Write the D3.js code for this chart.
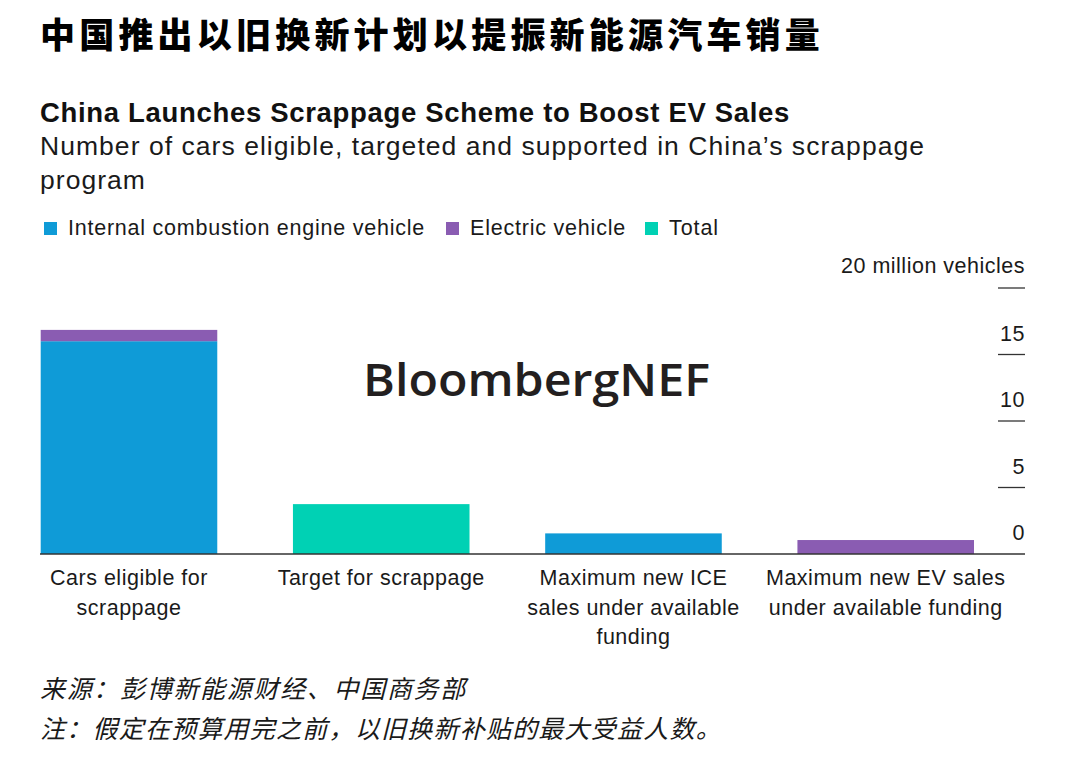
<!DOCTYPE html>
<html>
<head>
<meta charset="utf-8">
<script src="https://cdn.jsdelivr.net/npm/d3@7"></script>
<style>
  html, body { margin: 0; padding: 0; background: #fff; }
  svg { display: block; }
</style>
</head>
<body>
<svg id="chart" width="1080" height="759"></svg>
<script>
// ---- data ----
const categories = [
  ["Cars eligible for", "scrappage"],
  ["Target for scrappage"],
  ["Maximum new ICE", "sales under available", "funding"],
  ["Maximum new EV sales", "under available funding"]
];
const iceValues   = [16.0, 0, 1.55, 0];
const evValues    = [0.85, 0, 0, 1.05];
const totalValues = [0, 3.75, 0, 0];
const seriesNames = ["Internal combustion engine vehicle", "Electric vehicle", "Total"];
const seriesColors = ["#0f9bd7", "#8a5cb2", "#00d1b4"];
const yTicks = [0, 5, 10, 15, 20];
const yUnit = "20 million vehicles";
const titleZh = "中国推出以旧换新计划以提振新能源汽车销量";
const subtitle = "China Launches Scrappage Scheme to Boost EV Sales";
const description = ["Number of cars eligible, targeted and supported in China’s scrappage", "program"];
const sourceText = "来源：彭博新能源财经、中国商务部";
const noteText = "注：假定在预算用完之前，以旧换新补贴的最大受益人数。";

const svg = d3.select("#chart");
const latin = "'Liberation Sans', Arial, sans-serif";
const cjk = "'Noto Sans CJK SC', sans-serif";

// spread text so it spans a target width (via letter-spacing)
function fit(sel, width) {
  const n = sel.text().length;
  const w = sel.node().getComputedTextLength();
  sel.style("letter-spacing", ((width - w) / n) + "px");
  return sel;
}

// titles
fit(svg.append("text").attr("x", 40).attr("y", 48)
  .style("font-family", cjk).style("font-weight", 900).style("font-size", "35px")
  .attr("fill", "#000").text(titleZh), 784);

fit(svg.append("text").attr("x", 40).attr("y", 122)
  .style("font-family", latin).style("font-weight", 700).style("font-size", "27.5px")
  .attr("fill", "#111").text(subtitle), 750);

const descW = [885, 106];
description.forEach((t, i) => {
  fit(svg.append("text").attr("x", 40).attr("y", 155 + i * 34)
    .style("font-family", latin).style("font-size", "26.5px")
    .attr("fill", "#1a1a1a").text(t), descW[i]);
});

// legend
const legendX = [44, 446, 645];
const legendW = [357, 156, 50];
const legend = svg.append("g");
seriesNames.forEach((name, i) => {
  legend.append("rect").attr("x", legendX[i]).attr("y", 222).attr("width", 13).attr("height", 13)
    .attr("fill", seriesColors[i]);
  fit(legend.append("text").attr("x", legendX[i] + 24).attr("y", 235)
    .style("font-family", latin).style("font-size", "21.5px").attr("fill", "#1a1a1a").text(name), legendW[i]);
});

// scales
const x = d3.scaleBand().domain(d3.range(categories.length))
  .range([40.7, 974]).paddingInner(0.3).paddingOuter(0);
const y = d3.scaleLinear().domain([0, 20]).range([554, 288]);

// watermark
svg.append("text").attr("x", 363).attr("y", 396)
  .attr("textLength", 347).attr("lengthAdjust", "spacingAndGlyphs")
  .style("font-family", "'Open Sans', sans-serif").style("font-weight", 600).style("font-size", "46px")
  .attr("fill", "#231f20").text("BloombergNEF");

// bars
const stacks = categories.map((c, i) => {
  const segs = [];
  let base = 0;
  [iceValues[i], evValues[i], totalValues[i]].forEach((v, s) => {
    if (v > 0) { segs.push({ i, s, y0: base, y1: base + v }); base += v; }
  });
  return segs;
}).flat();

svg.append("g").selectAll("rect").data(stacks).join("rect")
  .attr("x", d => x(d.i)).attr("width", x.bandwidth())
  .attr("y", d => y(d.y1)).attr("height", d => y(d.y0) - y(d.y1))
  .attr("fill", d => seriesColors[d.s]);

// baseline
svg.append("line").attr("x1", 40).attr("x2", 1025).attr("y1", y(0)).attr("y2", y(0))
  .attr("stroke", "#333").attr("stroke-width", 1.3);

// y axis (right)
const yAxis = svg.append("g");
yTicks.forEach(t => {
  if (t > 0) {
    yAxis.append("line").attr("x1", 998).attr("x2", 1025).attr("y1", y(t)).attr("y2", y(t))
      .attr("stroke", "#333").attr("stroke-width", 1.3);
  }
  if (t < 20) {
    yAxis.append("text").attr("x", 1025).attr("y", y(t) - 14).attr("text-anchor", "end")
      .style("font-family", latin).style("font-size", "21.5px").style("letter-spacing", "0.5px")
      .attr("fill", "#1a1a1a").text(t);
  }
});
fit(yAxis.append("text").attr("x", 1025).attr("y", y(20) - 15).attr("text-anchor", "end")
  .style("font-family", latin).style("font-size", "21.5px").attr("fill", "#1a1a1a").text(yUnit), 184);

// category labels
categories.forEach((lines, i) => {
  lines.forEach((ln, j) => {
    svg.append("text").attr("x", x(i) + x.bandwidth() / 2).attr("y", 585 + j * 29.5)
      .attr("text-anchor", "middle")
      .style("font-family", latin).style("font-size", "21.5px").style("letter-spacing", "0.5px")
      .attr("fill", "#1a1a1a").text(ln);
  });
});

// footer
fit(svg.append("text").attr("x", 40).attr("y", 698)
  .style("font-family", cjk).style("font-style", "italic").style("font-size", "25px")
  .attr("fill", "#1a1a1a").text(sourceText), 427);
fit(svg.append("text").attr("x", 40).attr("y", 738)
  .style("font-family", cjk).style("font-style", "italic").style("font-size", "25px")
  .attr("fill", "#1a1a1a").text(noteText), 682);
</script>
</body>
</html>
